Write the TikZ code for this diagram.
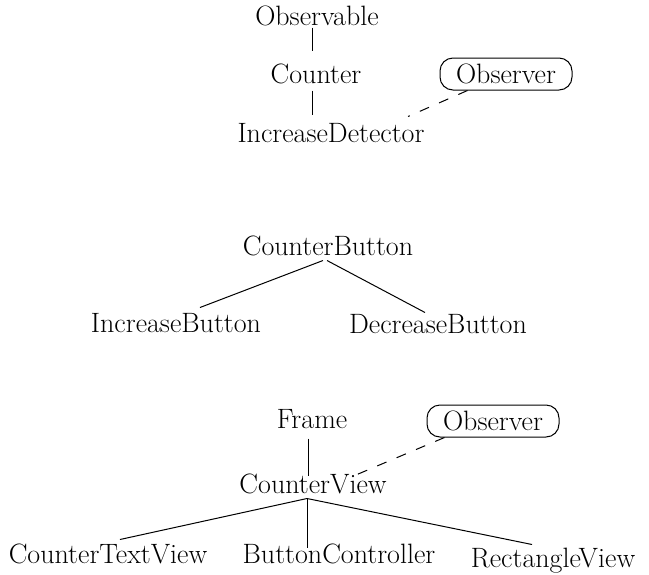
\documentclass[tikz,border=0pt]{standalone}
\usepackage{tikz}
\tikzset{
  cls/.style={inner sep=0pt, anchor=base, text height=17pt, text depth=5pt,
    font=\fontsize{28}{32}\selectfont},
  iface/.style={draw, rounded corners=13pt, inner sep=0pt, minimum width=132pt,
    minimum height=32pt, font=\fontsize{28}{32}\selectfont},
  impl/.style={line width=1pt, dash pattern=on 10pt off 11pt}
}
\begin{document}
\begin{tikzpicture}[x=1pt,y=-1pt,line width=1pt]
\useasboundingbox (0,0) rectangle (649,574);
% model
\node[cls] (obsable) at (317,25) {Observable};
\node[cls] (counter) at (316,83) {Counter};
\node[cls] (det) at (331,142) {IncreaseDetector};
\node[iface] (obsA) at (506,74) {Observer};
\draw ([xshift=-5pt,yshift=3pt]obsable.south) -- ([xshift=-4pt,yshift=15pt]counter.north);
\draw ([xshift=-4pt,yshift=-2pt]counter.south) -- ([xshift=-19pt,yshift=10pt]det.north);
\draw[impl] ([xshift=28pt]obsA.south west) -- ([xshift=77pt,yshift=8pt]det.north);
% buttons
\node[cls] (cb) at (328,255) {CounterButton};
\node[cls] (ib) at (176,332) {IncreaseButton};
\node[cls] (db) at (438,333) {DecreaseButton};
\draw ([xshift=-5pt]cb.south) -- ([xshift=24pt,yshift=7pt]ib.north);
\draw ([xshift=-1pt]cb.south) -- ([xshift=-13pt,yshift=3pt]db.north);
% views
\node[cls] (frame) at (312,428) {Frame};
\node[cls] (cv) at (313,493) {CounterView};
\node[iface] (obsB) at (493,421) {Observer};
\node[cls] (ctv) at (108,563) {CounterTextView};
\node[cls] (bc) at (339,563) {ButtonController};
\node[cls] (rv) at (553,567) {RectangleView};
\draw ([xshift=-4pt,yshift=-5pt]frame.south) -- ([xshift=-5pt]cv.north);
\draw[impl] ([xshift=18pt]obsB.south west) -- ([xshift=44pt,yshift=1pt]cv.north);
\draw ([xshift=-6pt]cv.south) -- ([xshift=12pt,yshift=6pt]ctv.north);
\draw ([xshift=-6pt]cv.south) -- ([xshift=-32pt,yshift=-2pt]bc.north);
\draw ([xshift=-6pt]cv.south) -- ([xshift=-21pt,yshift=5pt]rv.north);
\end{tikzpicture}
\end{document}
